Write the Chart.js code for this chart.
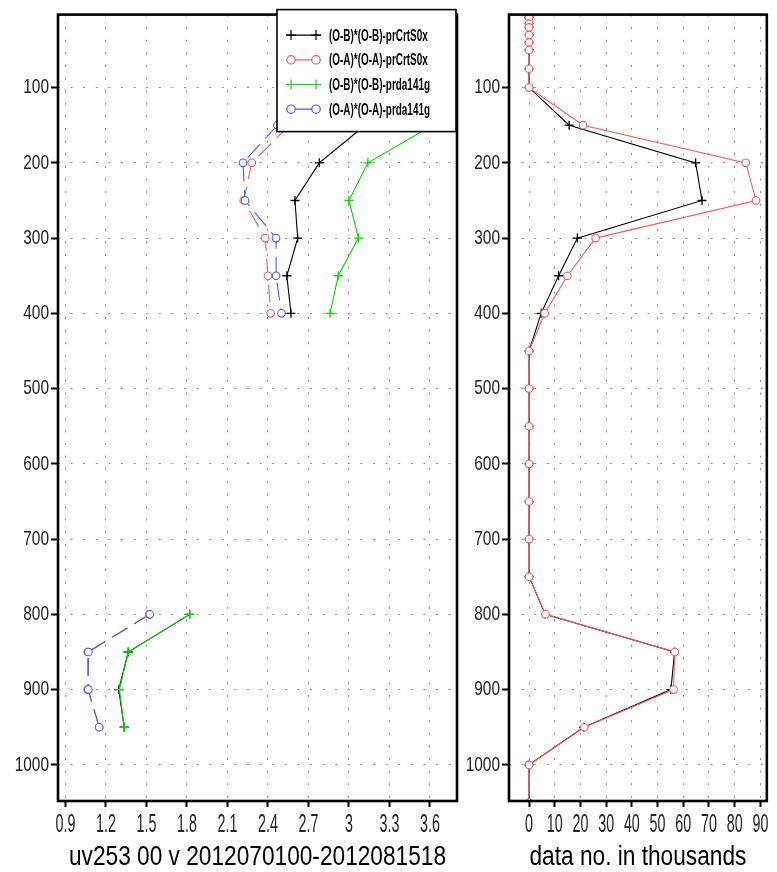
<!DOCTYPE html>
<html><head><meta charset="utf-8">
<script src="https://cdn.jsdelivr.net/npm/chart.js@4/dist/chart.umd.min.js"></script>
<style>
html,body{margin:0;padding:0;background:#fff;}
#wrap{position:relative;width:777px;height:872px;overflow:hidden;background:#fff;}
#c1{position:absolute;left:0;top:0;}
#c2{position:absolute;left:450px;top:0;}
</style></head><body>
<div id="wrap"><canvas id="c1" width="470" height="872"></canvas><canvas id="c2" width="327" height="872"></canvas></div>
<script>
// ---------- data ----------
const pressureTicks = [100, 200, 300, 400, 500, 600, 700, 800, 900, 1000];
const pressureTickLabels = ['100','200','300','400','500','600','700','800','900','1000'];
const statTicks = [0.9, 1.2, 1.5, 1.8, 2.1, 2.4, 2.7, 3.0, 3.3, 3.6];
const statTickLabels = ['0.9','1.2','1.5','1.8','2.1','2.4','2.7','3','3.3','3.6'];
const countTicks = [0, 10, 20, 30, 40, 50, 60, 70, 80, 90];
const countTickLabels = ['0','10','20','30','40','50','60','70','80','90'];

const seriesLabels = ['(O-B)*(O-B)-prCrtS0x', '(O-A)*(O-A)-prCrtS0x', '(O-B)*(O-B)-prda141g', '(O-A)*(O-A)-prda141g'];
const leftAxisTitle = 'uv253 00 v 2012070100-2012081518';
const rightAxisTitle = 'data no. in thousands';

// left panel: statistics vs pressure (hPa)
const statLevels = [150, 200, 250, 300, 350, 400, 450, 500, 550, 600, 650, 700, 750, 800, 850, 900, 950];
const obPrCrtS0x = [3.12, 2.78, 2.60, 2.62, 2.54, 2.57, null, null, null, null, null, null, null, 1.82, 1.365, 1.295, 1.335];
const oaPrCrtS0x = [2.56, 2.28, 2.22, 2.38, 2.40, 2.42, null, null, null, null, null, null, null, 1.52, 1.065, 1.065, 1.15];
const obPrda141g = [3.62, 3.14, 3.00, 3.07, 2.92, 2.86, null, null, null, null, null, null, null, 1.82, 1.365, 1.30, 1.335];
const oaPrda141g = [2.47, 2.215, 2.23, 2.46, 2.46, 2.50, null, null, null, null, null, null, null, 1.525, 1.07, 1.07, 1.15];

// right panel: data counts (thousands) vs pressure (hPa)
const countLevels = [5, 7, 15, 20, 30, 40, 50, 75, 100, 150, 200, 250, 300, 350, 400, 450, 500, 550, 600, 650, 700, 750, 800, 850, 900, 950, 1000, 1050];
const countPrCrtS0x = [0, 0, 0, 0, 0, 0, 0, 0, 0, 15.6, 64.8, 67.3, 18.8, 11.5, 4.7, 0, 0, 0, 0, 0, 0, 0, 6.3, 56.6, 55.2, 21.3, 0, 0];
const countPrda141g = [0, 0, 0, 0, 0, 0, 0, 0, 0, 21.0, 84.3, 88.3, 25.9, 14.9, 6.1, 0, 0, 0, 0, 0, 0, 0, 6.4, 56.7, 56.2, 21.5, 0, 0];

// ---------- styling ----------
const FAMILY = "'Liberation Sans', Arial, sans-serif";
const C_BLACK = '#000000', C_RED = '#ff5a5a', C_GREEN = '#00dc00', C_BLUE = '#4a5cff';
// horizontal compression of text by font size (mimics the narrow plotting font)
const SQUEEZE = {21: 0.735, 26: 0.55, 27: 0.84};

function narrowText(canvas) {
  const ctx = canvas.getContext('2d');
  const orig = ctx.fillText.bind(ctx);
  ctx.fillText = function (text, x, y, maxWidth) {
    const m = /(\d+(?:\.\d+)?)px/.exec(ctx.font);
    const f = m ? SQUEEZE[Math.round(parseFloat(m[1]))] : undefined;
    if (f) {
      const w = ctx.measureText(text).width * f;
      return orig(text, x, y, (maxWidth !== undefined && maxWidth !== null) ? Math.min(maxWidth, w) : w);
    }
    return (maxWidth !== undefined && maxWidth !== null) ? orig(text, x, y, maxWidth) : orig(text, x, y);
  };
}

function pts(levels, vals) { return levels.map((p, i) => ({x: vals[i], y: p})); }

function ds(label, levels, vals, color, style, dash, order) {
  return {
    label, data: pts(levels, vals), showLine: true, spanGaps: false,
    borderColor: color, borderWidth: 1.1, borderDash: dash,
    pointStyle: style, pointRadius: style === 'circle' ? 3.8 : 4.5,
    pointBorderWidth: style === 'circle' ? 1.1 : 1.3,
    pointBorderColor: color, pointBackgroundColor: '#ffffff',
    pointHoverRadius: 0, tension: 0, order
  };
}

const framePlugin = {
  id: 'frame',
  afterDatasetsDraw(chart) {
    const {ctx, chartArea: a} = chart;
    ctx.save();
    ctx.setLineDash([]);
    ctx.strokeStyle = '#000'; ctx.lineWidth = 2.6;
    ctx.strokeRect(a.left, a.top, a.right - a.left, a.bottom - a.top);
    ctx.restore();
  }
};

const boxLegendPlugin = {
  id: 'boxLegend',
  afterDraw(chart) {
    const {ctx, chartArea: a} = chart;
    const bx = a.right - 180, by = a.top - 5, bw = 179, bh = 122;
    ctx.save();
    ctx.setLineDash([]);
    ctx.fillStyle = '#fff';
    ctx.fillRect(bx, by, bw, bh);
    ctx.strokeStyle = '#000'; ctx.lineWidth = 1.6;
    ctx.strokeRect(bx, by, bw, bh);
    ctx.font = "bold 17px " + FAMILY;
    let wmax = 0;
    chart.data.datasets.forEach(d => { wmax = Math.max(wmax, ctx.measureText(d.label).width); });
    const sx = 101 / wmax;
    chart.data.datasets.forEach((d, i) => {
      const y = by + 25.5 + i * 24.7;
      ctx.strokeStyle = d.borderColor; ctx.lineWidth = 1.2;
      ctx.beginPath(); ctx.moveTo(bx + 9, y); ctx.lineTo(bx + 44, y); ctx.stroke();
      [bx + 14, bx + 39].forEach(mx => {
        ctx.beginPath();
        if (d.pointStyle === 'circle') {
          ctx.fillStyle = '#fff';
          ctx.arc(mx, y, 4.2, 0, Math.PI * 2); ctx.fill(); ctx.stroke();
        } else {
          ctx.moveTo(mx - 5, y); ctx.lineTo(mx + 5, y);
          ctx.moveTo(mx, y - 5); ctx.lineTo(mx, y + 5); ctx.stroke();
        }
      });
      ctx.save();
      ctx.translate(bx + 52, y);
      ctx.scale(sx, 1);
      ctx.fillStyle = '#000'; ctx.textBaseline = 'middle'; ctx.textAlign = 'left';
      ctx.fillText(d.label, 0, 1);
      ctx.restore();
    });
    ctx.restore();
  }
};

function scalesFor(xmin, xmax, xTicks, xLabels, xTitle, yWidth) {
  const gridBase = {color: '#8c8c8c', lineWidth: 1, tickColor: '#000', tickWidth: 2, tickBorderDash: [], drawTicks: true};
  return {
    x: {
      type: 'linear', position: 'bottom', min: xmin, max: xmax,
      afterBuildTicks: s => { s.ticks = xTicks.map(v => ({value: v})); },
      afterFit: s => { s.height = 71; },
      ticks: {
        autoSkip: false, maxRotation: 0, padding: 2, color: '#222',
        font: {family: FAMILY, size: 26},
        callback: (v) => { const k = xTicks.findIndex(t => Math.abs(t - v) < 1e-9); return k >= 0 ? xLabels[k] : ''; }
      },
      grid: Object.assign({}, gridBase, {tickLength: 6}),
      border: {display: false, dash: [2, 10.6]},
      title: {display: true, text: xTitle, color: '#000', font: {family: FAMILY, size: 27, lineHeight: 1.1}, padding: {top: 0, bottom: 0}}
    },
    y: {
      type: 'linear', position: 'left', reverse: true, min: 3, max: 1048,
      afterBuildTicks: s => { s.ticks = pressureTicks.map(v => ({value: v})); },
      afterFit: s => { s.width = yWidth; },
      ticks: {
        autoSkip: false, padding: 2, color: '#222',
        font: {family: FAMILY, size: 21},
        callback: (v) => { const k = pressureTicks.indexOf(v); return k >= 0 ? pressureTickLabels[k] : ''; }
      },
      grid: Object.assign({}, gridBase, {tickLength: 7}),
      border: {display: false, dash: [2, 10.6]}
    }
  };
}

const common = {
  responsive: false, animation: false, devicePixelRatio: 1, events: [],
  plugins: {legend: {display: false}, tooltip: {enabled: false}, title: {display: false}}
};

const cv1 = document.getElementById('c1');
const cv2 = document.getElementById('c2');
narrowText(cv1);
narrowText(cv2);

new Chart(cv1, {
  type: 'scatter',
  data: {datasets: [
    ds(seriesLabels[0], statLevels, obPrCrtS0x, C_BLACK, 'cross', [], 4),
    ds(seriesLabels[1], statLevels, oaPrCrtS0x, C_RED, 'circle', [18, 8], 3),
    ds(seriesLabels[2], statLevels, obPrda141g, C_GREEN, 'cross', [], 2),
    ds(seriesLabels[3], statLevels, oaPrda141g, C_BLUE, 'circle', [18, 8], 1)
  ]},
  options: Object.assign({}, common, {
    layout: {padding: {top: 12, right: 13, left: 0, bottom: 0}},
    scales: scalesFor(0.845, 3.8, statTicks, statTickLabels, leftAxisTitle, 58)
  }),
  plugins: [framePlugin, boxLegendPlugin]
});

new Chart(cv2, {
  type: 'scatter',
  data: {datasets: [
    ds(seriesLabels[0], countLevels, countPrCrtS0x, C_BLACK, 'cross', [], 2),
    ds(seriesLabels[1], countLevels, countPrda141g, C_RED, 'circle', [], 1)
  ]},
  options: Object.assign({}, common, {
    layout: {padding: {top: 12, right: 6, left: 0, bottom: 0}},
    scales: scalesFor(-7.8, 92.5, countTicks, countTickLabels, rightAxisTitle, 59)
  }),
  plugins: [framePlugin]
});
</script>
</body></html>
